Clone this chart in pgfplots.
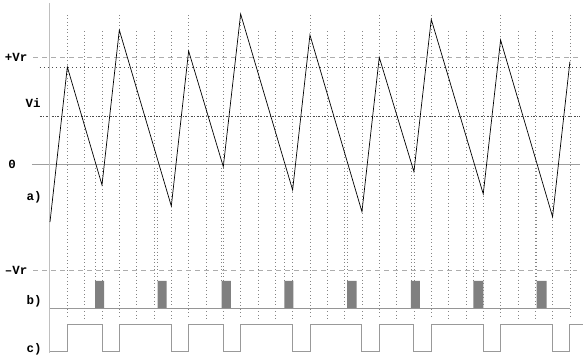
\documentclass[border=0pt]{standalone}
\usepackage{pgfplots}
\pgfplotsset{compat=1.18}
\usepackage{fontspec}
\newfontfamily\lblfont{Liberation Mono}
\newcommand\lbl[1]{{\lblfont\bfseries\fontsize{12.5}{13}\selectfont #1}}
\definecolor{axgray}{gray}{0.75}
\definecolor{zgray}{gray}{0.62}
\definecolor{dgray}{gray}{0.68}
\definecolor{vgray}{gray}{0.52}
\definecolor{pgray}{gray}{0.5}
\definecolor{sgray}{gray}{0.6}
\definecolor{dkgray}{gray}{0.3}
\begin{document}
\begin{tikzpicture}
\begin{axis}[
  width=583bp, height=360bp, scale only axis,
  hide axis, clip=false,
  xmin=-2.885, xmax=30.756, ymin=-1.832, ymax=1.533,
  unbounded coords=jump,
]
% vertical dotted clock lines
\addplot[vgray, line width=0.6bp, dash pattern=on 1bp off 2.5bp] coordinates {
(1,1.393) (1,-1.44) (1,nan)
(2,1.243) (2,-1.44) (2,nan)
(3,1.243) (3,-1.44) (3,nan)
(4,1.393) (4,-1.44) (4,nan)
(5,1.243) (5,-1.44) (5,nan)
(6,1.243) (6,-1.44) (6,nan)
(7,1.243) (7,-1.44) (7,nan)
(8,1.393) (8,-1.44) (8,nan)
(9,1.243) (9,-1.44) (9,nan)
(10,1.243) (10,-1.44) (10,nan)
(11,1.393) (11,-1.44) (11,nan)
(12,1.243) (12,-1.44) (12,nan)
(13,1.243) (13,-1.44) (13,nan)
(14,1.243) (14,-1.44) (14,nan)
(15,1.393) (15,-1.44) (15,nan)
(16,1.243) (16,-1.44) (16,nan)
(17,1.243) (17,-1.44) (17,nan)
(18,1.243) (18,-1.44) (18,nan)
(19,1.393) (19,-1.44) (19,nan)
(20,1.243) (20,-1.44) (20,nan)
(21,1.243) (21,-1.44) (21,nan)
(22,1.393) (22,-1.44) (22,nan)
(23,1.243) (23,-1.44) (23,nan)
(24,1.243) (24,-1.44) (24,nan)
(25,1.243) (25,-1.44) (25,nan)
(26,1.393) (26,-1.44) (26,nan)
(27,1.243) (27,-1.44) (27,nan)
(28,1.243) (28,-1.44) (28,nan)
(29,1.243) (29,-1.44) (29,nan)
(30,1.393) (30,-1.44)
};
% dotted lines from zero crossings to pulses
\addplot[vgray, line width=0.6bp, dash pattern=on 1bp off 2.5bp] coordinates {
(2.60,0) (2.60,-1.093) (2.60,nan)
(6.21,0) (6.21,-1.093) (6.21,nan)
(9.91,0) (9.91,-1.093) (9.91,nan)
(13.52,0) (13.52,-1.093) (13.52,nan)
(17.14,0) (17.14,-1.093) (17.14,nan)
(20.83,0) (20.83,-1.093) (20.83,nan)
(24.43,0) (24.43,-1.093) (24.43,nan)
(28.08,0) (28.08,-1.093)
};
% horizontal reference lines
\addplot[dgray, line width=0.7bp, dash pattern=on 5bp off 4bp] coordinates {(-0.98,1) (30.6,1)};
\addplot[dkgray, line width=0.6bp, dash pattern=on 1bp off 3bp] coordinates {(-0.58,0.907) (30.6,0.907)};
\addplot[dkgray, line width=0.6bp, dash pattern=on 2bp off 1.5bp on 0.8bp off 1.5bp] coordinates {(-0.58,0.449) (30.6,0.449)};
\addplot[zgray, line width=0.8bp] coordinates {(-1.04,0) (30.6,0)};
\addplot[dgray, line width=0.7bp, dash pattern=on 5bp off 4bp] coordinates {(-0.98,-0.997) (30.4,-0.997)};
\addplot[sgray, line width=0.8bp] coordinates {(0,-1.346) (30,-1.346)};
% vertical axis line
\addplot[axgray, line width=1bp] coordinates {(0,1.505) (0,-1.766)};
% b) pulses
\addplot[fill=pgray, draw=none] coordinates {
(2.60,-1.346) (2.60,-1.093) (3.12,-1.093) (3.12,-1.346)
(6.21,-1.346) (6.21,-1.093) (6.73,-1.093) (6.73,-1.346)
(9.91,-1.346) (9.91,-1.093) (10.43,-1.093) (10.43,-1.346)
(13.52,-1.346) (13.52,-1.093) (14.04,-1.093) (14.04,-1.346)
(17.14,-1.346) (17.14,-1.093) (17.70,-1.093) (17.70,-1.346)
(20.83,-1.346) (20.83,-1.093) (21.35,-1.093) (21.35,-1.346)
(24.43,-1.346) (24.43,-1.093) (25.00,-1.093) (25.00,-1.346)
(28.08,-1.346) (28.08,-1.093) (28.65,-1.093) (28.65,-1.346)
} -- cycle;
% c) square wave
\addplot[sgray, line width=0.9bp, const plot] coordinates {
(0,-1.748) (1,-1.5) (3,-1.748) (4,-1.5) (7,-1.748) (8,-1.5)
(10,-1.748) (11,-1.5) (14,-1.748) (15,-1.5) (18,-1.748) (19,-1.5)
(21,-1.748) (22,-1.5) (25,-1.748) (26,-1.5) (29,-1.748) (30,-1.5) (30.76,-1.5)
};
% a) integrator sawtooth
\addplot[black, line width=0.7bp] coordinates {
(0,-0.542) (1,0.907) (3,-0.196) (4,1.252) (7,-0.393) (8,1.056)
(10,-0.025) (11,1.402) (14,-0.243) (15,1.206) (18,-0.446) (19,0.997)
(21,-0.072) (22,1.352) (25,-0.280) (26,1.159) (29,-0.493) (30,0.956)
};
% labels
\node at (axis cs:-1.96,1.0) {\lbl{+Vr}};
\node at (axis cs:-0.98,0.57) {\lbl{Vi}};
\node at (axis cs:-2.19,0) {\lbl{0}};
\node at (axis cs:-0.92,-0.308) {\lbl{a)}};
\node at (axis cs:-1.96,-0.99) {\lbl{–Vr}};
\node at (axis cs:-0.92,-1.28) {\lbl{b)}};
\node at (axis cs:-0.92,-1.729) {\lbl{c)}};
\end{axis}
\pgfresetboundingbox
\path (current axis.south west) rectangle (current axis.north east);
\end{tikzpicture}
\end{document}
